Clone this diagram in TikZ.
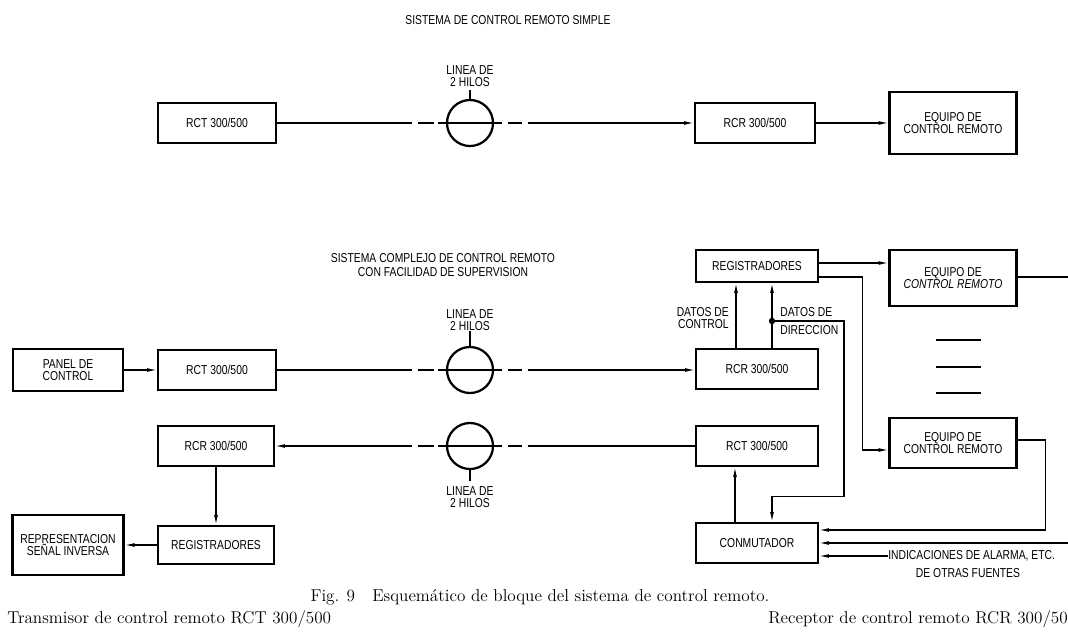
\documentclass[tikz,border=0pt]{standalone}
\usepackage{fontspec}
\newfontfamily\blockfont{Liberation Sans}[FakeStretch=0.8]
\usetikzlibrary{arrows.meta, calc}

\begin{document}
\begin{tikzpicture}[
  x=0.025cm, y=-0.025cm,
  every node/.style = {font=\blockfont\fontsize{9.2}{8}\selectfont,
                       align=center, inner sep=0pt},
  blk/.style   = {draw, line width=1.6pt, minimum width=3.05cm,
                  minimum height=1cm},
  equipo/.style = {blk, minimum width=3.175cm},
  linea/.style = {circle, draw, line width=1.6pt, minimum size=1.15cm},
  wire/.style  = {line width=0.85pt},
  arr/.style   = {wire, -{Latex[length=7pt,width=2.8pt]}},
  caption/.style = {font=\rmfamily\fontsize{12.2}{14}\selectfont},
]

\fill[white] (0,0) rectangle (1068,641);
\useasboundingbox (0,0) rectangle (1068,641);

%% simple system
\node (t1) at (508,20) {SISTEMA DE CONTROL REMOTO SIMPLE};
\node[blk, minimum width=2.95cm]    (rct1) at (217,123) {RCT 300/500};
\node[linea]                        (w1)   at (470,123) {};
\node[blk, minimum width=3cm]       (rcr1) at (755,123) {RCR 300/500};
\node[equipo, minimum height=1.55cm] (eq1) at (953,123) {EQUIPO DE\\CONTROL REMOTO};
\node (lbl1) at (470,76) {LINEA DE\\2 HILOS};

%% complex system, forward path
\node (t2) at (443,265) {SISTEMA COMPLEJO DE CONTROL REMOTO\\[1.5pt]CON FACILIDAD DE SUPERVISION};
\node[blk, minimum width=2.75cm, minimum height=1.05cm] (panel) at (68,370) {PANEL DE\\CONTROL};
\node[blk, minimum width=2.95cm] (rct2) at (217,370) {RCT 300/500};
\node[linea]                     (w2)   at (470,370) {};
\node (lbl2) at (470,320) {LINEA DE\\2 HILOS};
\node[blk]                       (rcr2) at (757,369) {RCR 300/500};
\node[blk, minimum height=0.8cm] (reg1) at (757,266) {REGISTRADORES};
\node[equipo, minimum height=1.4cm] (eq2) at (953,278) {EQUIPO DE\\\itshape CONTROL REMOTO};
\node[equipo, minimum height=1.25cm] (eq3) at (953,443) {EQUIPO DE\\CONTROL REMOTO};

%% complex system, return path
\node[blk]                       (rct3) at (757,446) {RCT 300/500};
\node[blk]                       (conm) at (757,543) {CONMUTADOR};
\node[linea]                     (w3)   at (470,446) {};
\node (lbl3) at (470,497) {LINEA DE\\2 HILOS};
\node[blk, minimum width=2.9cm]  (rcr3) at (216,446) {RCR 300/500};
\node[blk, minimum width=2.9cm, minimum height=0.95cm] (reg3) at (216,545) {REGISTRADORES};
\node[blk, minimum width=2.78cm, minimum height=1.5cm] (repr) at (68,545)
  {REPRESENTACION\\SEÑAL INVERSA};

%% broken 2-wire line through each circle
\foreach \w in {w1,w2,w3}{
  \coordinate (\w l) at ($(\w)+(-58,0)$);
  \coordinate (\w r) at ($(\w)+(58,0)$);
  \draw[wire] ($(\w)+(-52,0)$) -- ++(16,0)
              ($(\w)+(-32,0)$) -- ++(64,0)
              ($(\w)+(38,0)$)  -- ++(14,0);
}
\draw[line width=1.2pt] (w1.north) -- ++(0,-9);
\draw[line width=1.2pt] (w2.north) -- ++(0,-15);
\draw[line width=1.2pt] (w3.south) -- ++(0,11);

\draw[wire] (rct1) -- (w1l);
\draw[arr]  (w1r) -- (rcr1);
\draw[arr]  (rcr1) -- (eq1);

\draw[arr]  (panel) -- (rct2);
\draw[wire] (rct2) -- (w2l);
\draw[arr]  (w2r) -- (rcr2.west |- w2r);

\draw[wire] (rct3) -- (w3r);
\draw[arr]  (w3l) -- (rcr3);
\draw[arr]  (rcr3) -- (reg3);
\draw[arr]  (reg3) -- (repr);

%% data from the receiver to the registers
\draw[arr] ($(rcr2.north)+(-21,0)$) -- ($(reg1.south)+(-21,0)$);
\draw[arr] ($(rcr2.north)+(15,0)$)  -- ($(reg1.south)+(15,0)$);
\node[anchor=east, align=right] (dctl) at (729,318) {DATOS DE\\CONTROL};
\node[anchor=west, align=left]  (ddir) at (780,321) {DATOS DE\\[5pt]DIRECCION};
\coordinate (dir) at ($(rcr2.north |- 0,321)+(15,0)$);
\fill (dir) circle (3.2);
\draw[arr] (dir) -- ++(72,0) |- ($(conm.north)+(15,-25)$) -- ($(conm.north)+(15,0)$);

%% registers to the equipment
\coordinate (r1a) at ($(reg1.east)+(0,-3)$);
\coordinate (r1b) at ($(reg1.east)+(0,11)$);
\draw[arr] (r1a) -- (r1a -| eq2.west);
\draw[arr] (r1b) -- ++(43,0) |- ($(eq3.west)+(0,7)$);

%% further equipment
\foreach \yy in {340,367,393}
  \draw[wire] (936,\yy) -- (981,\yy);

%% inputs to the switch
\coordinate (outA) at (1068,277);
\coordinate (outB) at (1068,543);
\draw[wire] ($(eq2.east)+(0,-1)$) -- (outA);
\draw[arr] ($(eq3.east)+(0,-3)$) -- ++(28,0) |- ($(conm.east)+(0,-13)$);
\draw[arr] (outB) -- (conm.east |- outB);
\node[anchor=west] (alarma) at (888,556) {INDICACIONES DE ALARMA, ETC.};
\node (fuentes) at (968,573) {DE OTRAS FUENTES};
\draw[arr] (alarma.west) -- (conm.east |- alarma.west);
\draw[arr] ($(conm.north)+(-22,0)$) -- ($(rct3.south)+(-22,0)$);

%% caption
\node[caption, anchor=base] (cap1) at (540,601)
  {Fig. 9\quad Esquemático de bloque del sistema de control remoto.};
\node[caption, anchor=base west] (cap2) at (7,623)
  {Transmisor de control remoto RCT 300/500};
\node[caption, anchor=base east] (cap3) at (1068,623)
  {Receptor de control remoto RCR 300/50};

\end{tikzpicture}
\end{document}
